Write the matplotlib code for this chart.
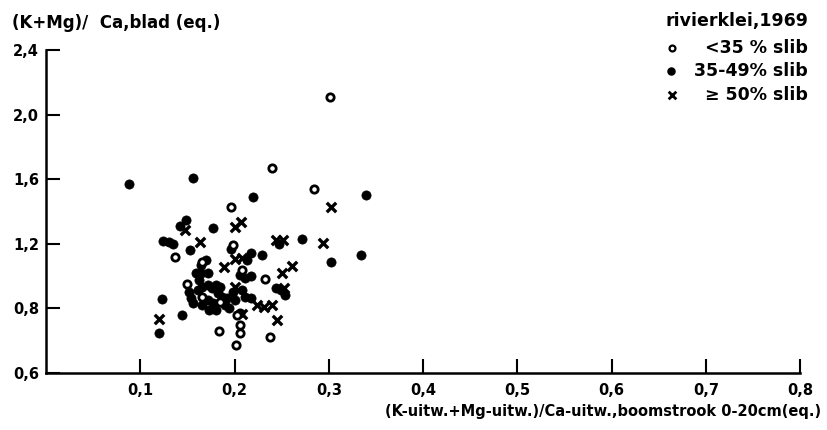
import numpy as np
import matplotlib
matplotlib.use("Agg")
import matplotlib.pyplot as plt

# Data
# open circles: < 35 % slib
open_x = [0.301, 0.240, 0.284, 0.196, 0.137, 0.198, 0.166, 0.208, 0.232, 0.166,
          0.185, 0.203, 0.183, 0.206, 0.206, 0.238, 0.202, 0.150]
open_y = [2.11, 1.67, 1.54, 1.43, 1.12, 1.19, 1.09, 1.04, 0.98, 0.87,
          0.84, 0.78, 0.73, 0.748, 0.723, 0.711, 0.686, 0.95]

# filled dots: 35-49 % slib
dot_x = [0.088, 0.156, 0.220, 0.339, 0.334, 0.149, 0.142, 0.177, 0.124, 0.130,
         0.135, 0.153, 0.196, 0.218, 0.229, 0.272, 0.247, 0.302, 0.213, 0.170,
         0.164, 0.159, 0.164, 0.172, 0.206, 0.211, 0.218, 0.244, 0.249, 0.254,
         0.218, 0.123, 0.144, 0.120, 0.206, 0.152, 0.154, 0.156, 0.161, 0.166,
         0.172, 0.176, 0.180, 0.185, 0.182, 0.187, 0.172, 0.177, 0.190, 0.173,
         0.166, 0.194, 0.198, 0.208, 0.211, 0.192, 0.162, 0.201, 0.180]
dot_y = [1.57, 1.61, 1.49, 1.50, 1.13, 1.35, 1.31, 1.30, 1.215, 1.21,
         1.20, 1.16, 1.17, 1.14, 1.13, 1.23, 1.20, 1.09, 1.10, 1.10,
         1.07, 1.02, 1.02, 1.02, 1.005, 0.99, 1.00, 0.924, 0.912, 0.881,
         0.862, 0.856, 0.778, 0.723, 0.785, 0.899, 0.862, 0.831, 0.912, 0.930,
         0.943, 0.924, 0.943, 0.930, 0.893, 0.868, 0.850, 0.831, 0.819, 0.794,
         0.819, 0.800, 0.899, 0.912, 0.868, 0.862, 0.974, 0.850, 0.794]

# crosses: >= 50 % slib
x_x = [0.147, 0.163, 0.201, 0.207, 0.302, 0.244, 0.251, 0.294, 0.201, 0.208,
       0.189, 0.250, 0.261, 0.201, 0.252, 0.224, 0.231, 0.240, 0.208, 0.245,
       0.120]
x_y = [1.284, 1.209, 1.302, 1.333, 1.426, 1.222, 1.222, 1.203, 1.104, 1.110,
       1.054, 1.017, 1.060, 0.930, 0.924, 0.819, 0.806, 0.819, 0.782, 0.763,
       0.766]

xticks = [0.1, 0.2, 0.3, 0.4, 0.5, 0.6, 0.7, 0.8]
xtick_labels = ["0,1", "0,2", "0,3", "0,4", "0,5", "0,6", "0,7", "0,8"]
yticks = [0.6, 0.8, 1.2, 1.6, 2.0, 2.4]
ytick_labels = ["0,6", "0,8", "1,2", "1,6", "2,0", "2,4"]

# the drawn axis squeezes 0.6-0.8 into the same length as 0.8-1.2
def fwd(y):
    y = np.asarray(y, dtype=float)
    return np.where(y >= 0.8, y, 0.8 - (0.8 - y) * 2.0)

def inv(y):
    y = np.asarray(y, dtype=float)
    return np.where(y >= 0.8, y, 0.8 - (0.8 - y) / 2.0)

plt.rcParams['font.family'] = ['DejaVu Sans']
plt.rcParams['font.weight'] = 'bold'

fig = plt.figure(figsize=(8.28, 4.30), dpi=100)
ax = fig.add_axes([0.0556, 0.1326, 0.9106, 0.7512])

ax.set_yscale('function', functions=(fwd, inv))

ax.scatter(dot_x, dot_y, s=44, c='black', edgecolors='black', linewidths=0.5, zorder=3)
ax.scatter(open_x, open_y, s=28, facecolors='white', edgecolors='black', linewidths=2.0, zorder=4)
ax.scatter(x_x, x_y, s=46, marker='x', c='black', linewidths=2.4, zorder=3)

ax.set_xlim(0, 0.8)
ax.set_ylim(0.6, 2.4)
ax.set_xticks(xticks)
ax.set_xticklabels(xtick_labels)
ax.set_yticks(yticks)
ax.set_yticklabels(ytick_labels)
ax.minorticks_off()

for side in ['top', 'right']:
    ax.spines[side].set_visible(False)
for side in ['left', 'bottom']:
    ax.spines[side].set_linewidth(1.8)

ax.tick_params(axis='both', direction='in', length=10, width=1.5, labelsize=10.5)
ax.tick_params(axis='y', pad=5)
ax.tick_params(axis='x', pad=7)

# titles / axis texts
fig.text(0.015, 0.947, "(K+Mg)/  Ca,blad (eq.)", fontsize=12, fontweight='bold',
         ha='left', va='center')
fig.text(0.992, 0.042, "(K-uitw.+Mg-uitw.)/Ca-uitw.,boomstrook 0-20cm(eq.)",
         fontsize=10.5, fontweight='bold', ha='right', va='center')

# legend block, top right
fig.text(0.976, 0.951, "rivierklei,1969", fontsize=12.5, fontweight='bold',
         ha='right', va='center')
rows = [(0.888, "<35 % slib"), (0.835, "35-49% slib"), (0.778, "\u2265 50% slib")]
for yy, label in rows:
    fig.text(0.976, yy, label, fontsize=12.5, fontweight='bold', ha='right', va='center')
ax.scatter([0.8115], [0.888], s=18, facecolors='white', edgecolors='black', linewidths=1.6,
           transform=fig.transFigure, clip_on=False)
ax.scatter([0.8105], [0.835], s=26, c='black', transform=fig.transFigure, clip_on=False)
ax.scatter([0.8115], [0.778], s=30, marker='x', c='black', linewidths=2.0,
           transform=fig.transFigure, clip_on=False)

fig.savefig("out.png", dpi=100)
